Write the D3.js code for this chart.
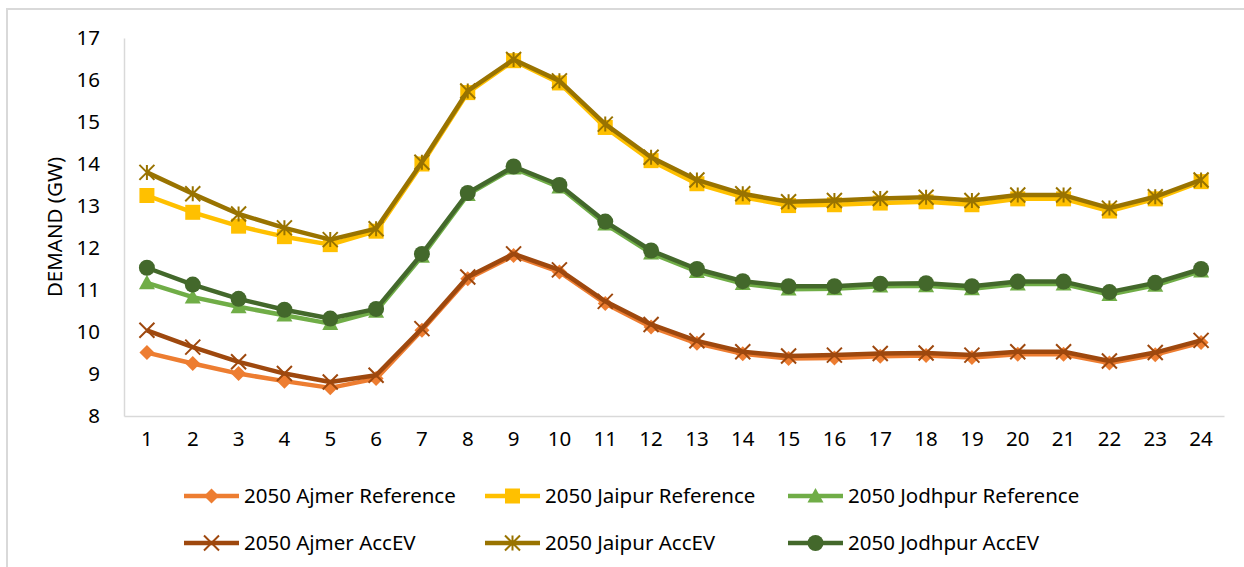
<!DOCTYPE html>
<html>
<head>
<meta charset="utf-8">
<script src="https://cdn.jsdelivr.net/npm/d3@7"></script>
<style>
  html, body { margin: 0; padding: 0; background: #fff; }
  svg { display: block; font-family: "Noto Sans", "Open Sans", sans-serif; }
</style>
</head>
<body>
<svg id="chart" width="1244" height="567"></svg>
<script>
// Hourly electricity demand (GW), 2050 scenarios
const hours = d3.range(1, 25);
const yTicks = [8, 9, 10, 11, 12, 13, 14, 15, 16, 17];

const ajmerReference = [9.51, 9.25, 9.01, 8.83, 8.67, 8.89, 10.04, 11.27, 11.82, 11.43, 10.68, 10.12,
  9.73, 9.48, 9.37, 9.38, 9.42, 9.44, 9.39, 9.47, 9.47, 9.26, 9.46, 9.75];
const jaipurReference = [13.25, 12.85, 12.52, 12.27, 12.08, 12.40, 14.00, 15.70, 16.46, 15.93, 14.87, 14.08,
  13.53, 13.21, 13.01, 13.03, 13.07, 13.10, 13.03, 13.17, 13.17, 12.88, 13.17, 13.58];
const jodhpurReference = [11.17, 10.83, 10.60, 10.40, 10.20, 10.49, 11.80, 13.27, 13.90, 13.45, 12.57, 11.88,
  11.44, 11.15, 11.02, 11.03, 11.09, 11.10, 11.03, 11.14, 11.14, 10.89, 11.11, 11.45];
const ajmerAccEV = [10.04, 9.64, 9.29, 9.01, 8.81, 8.97, 10.08, 11.31, 11.86, 11.48, 10.73, 10.18,
  9.79, 9.53, 9.43, 9.45, 9.49, 9.50, 9.45, 9.53, 9.53, 9.31, 9.51, 9.80];
const jaipurAccEV = [13.80, 13.29, 12.81, 12.48, 12.20, 12.46, 14.04, 15.74, 16.49, 15.98, 14.95, 14.16,
  13.62, 13.29, 13.10, 13.13, 13.18, 13.21, 13.13, 13.26, 13.26, 12.95, 13.22, 13.62];
const jodhpurAccEV = [11.53, 11.13, 10.79, 10.53, 10.32, 10.55, 11.86, 13.31, 13.94, 13.50, 12.63, 11.94,
  11.50, 11.21, 11.09, 11.09, 11.15, 11.16, 11.09, 11.20, 11.20, 10.95, 11.17, 11.50];

const seriesNames = ["2050 Ajmer Reference", "2050 Jaipur Reference", "2050 Jodhpur Reference",
  "2050 Ajmer AccEV", "2050 Jaipur AccEV", "2050 Jodhpur AccEV"];
const seriesValues = [ajmerReference, jaipurReference, jodhpurReference, ajmerAccEV, jaipurAccEV, jodhpurAccEV];
const seriesColors = ["#ED7D31", "#FFC000", "#70AD47", "#9E480E", "#997300", "#43682B"];
const seriesMarkers = ["diamond", "square", "triangle", "cross", "star", "circle"];

const series = seriesNames.map((name, i) => ({
  name, color: seriesColors[i], marker: seriesMarkers[i],
  values: seriesValues[i].map((v, j) => ({ hour: hours[j], value: v }))
}));

const svg = d3.select("#chart");
const axisColor = "#D9D9D9";
const fontSize = 20.5;

// chart frame
svg.append("path")
  .attr("d", "M7,567 V9 H1244")
  .attr("fill", "none")
  .attr("stroke", axisColor)
  .attr("stroke-width", 2);

const plot = { left: 124, right: 1224, top: 38, bottom: 416 };

const x = d3.scaleBand().domain(hours).range([plot.left, plot.right]);
const y = d3.scaleLinear().domain([8, 17]).range([plot.bottom, plot.top]);
const cx = h => x(h) + x.bandwidth() / 2;

// y axis
const yAxis = svg.append("g")
  .attr("transform", `translate(${plot.left},0)`)
  .call(d3.axisLeft(y).tickValues(yTicks).tickSize(0).tickPadding(24).tickFormat(d3.format("d")));
yAxis.select(".domain").attr("stroke", axisColor).attr("stroke-width", 1.5);
yAxis.selectAll("text").attr("font-size", fontSize).attr("fill", "#000")
  .attr("font-family", "'Noto Sans', sans-serif");

// x axis
const xAxis = svg.append("g")
  .attr("transform", `translate(0,${plot.bottom})`)
  .call(d3.axisBottom(x).tickSize(0).tickPadding(15));
xAxis.select(".domain").attr("stroke", axisColor).attr("stroke-width", 1.5);
xAxis.selectAll("text").attr("font-size", fontSize).attr("fill", "#000")
  .attr("font-family", "'Noto Sans', sans-serif");

// y axis title
svg.append("text")
  .attr("transform", `translate(62,${(plot.top + plot.bottom) / 2}) rotate(-90)`)
  .attr("text-anchor", "middle")
  .attr("font-size", fontSize)
  .attr("fill", "#000")
  .text("DEMAND (GW)");

// marker drawing
function drawMarker(g, type, color, s) {
  const h = s / 2;
  switch (type) {
    case "diamond":
      g.append("path").attr("d", `M0,${-h} L${h},0 L0,${h} L${-h},0 Z`).attr("fill", color);
      break;
    case "square":
      g.append("rect").attr("x", -h).attr("y", -h).attr("width", s).attr("height", s).attr("fill", color);
      break;
    case "triangle":
      g.append("path").attr("d", `M0,${-h} L${h},${h * 0.8} L${-h},${h * 0.8} Z`).attr("fill", color);
      break;
    case "circle":
      g.append("circle").attr("r", h).attr("fill", color);
      break;
    case "cross":
      g.append("path").attr("d", `M${-h},${-h} L${h},${h} M${-h},${h} L${h},${-h}`)
        .attr("stroke", color).attr("stroke-width", 2).attr("fill", "none");
      break;
    case "star":
      g.append("path").attr("d", `M${-h},${-h} L${h},${h} M${-h},${h} L${h},${-h} M0,${-h} L0,${h}`)
        .attr("stroke", color).attr("stroke-width", 2).attr("fill", "none");
      break;
  }
}

const markerSize = { diamond: 15, square: 15, triangle: 16, circle: 16, cross: 15, star: 15 };

const line = d3.line().x(d => cx(d.hour)).y(d => y(d.value));

series.forEach(s => {
  const g = svg.append("g");
  g.append("path")
    .datum(s.values)
    .attr("d", line)
    .attr("fill", "none")
    .attr("stroke", s.color)
    .attr("stroke-width", 4.5)
    .attr("stroke-linejoin", "round");
  g.selectAll("g.pt")
    .data(s.values)
    .join("g")
    .attr("class", "pt")
    .attr("transform", d => `translate(${cx(d.hour)},${y(d.value)})`)
    .each(function () { drawMarker(d3.select(this), s.marker, s.color, markerSize[s.marker]); });
});

// legend
const legendCols = [184, 485, 788];
const legendRows = [496, 543];
series.forEach((s, i) => {
  const lx = legendCols[i % 3];
  const ly = legendRows[Math.floor(i / 3)];
  const g = svg.append("g").attr("transform", `translate(${lx},${ly})`);
  g.append("line").attr("x1", 0).attr("x2", 55).attr("y1", 0).attr("y2", 0)
    .attr("stroke", s.color).attr("stroke-width", 4.5);
  const m = g.append("g").attr("transform", "translate(27.5,0)");
  drawMarker(m, s.marker, s.color, markerSize[s.marker]);
  g.append("text")
    .attr("x", 60)
    .attr("y", 0)
    .attr("dy", "0.35em")
    .attr("font-size", fontSize)
    .attr("fill", "#000")
    .text(s.name);
});
</script>
</body>
</html>
